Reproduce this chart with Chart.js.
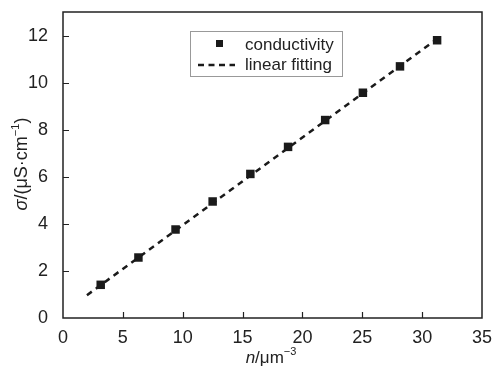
<!DOCTYPE html>
<html>
<head>
<meta charset="utf-8">
<script src="https://cdn.jsdelivr.net/npm/chart.js@4/dist/chart.umd.min.js"></script>
<style>
    body { margin: 0; background: #fff; }
    canvas { display: block; }
</style>
</head>
<body>
<canvas id="chart" width="492" height="369"></canvas>
<script>
// measured points (n in um^-3, sigma in uS/cm)
const nValues = [3.15, 6.3, 9.4, 12.5, 15.65, 18.8, 21.9, 25.05, 28.15, 31.25];
const sigmaValues = [1.41, 2.57, 3.76, 4.95, 6.12, 7.27, 8.41, 9.57, 10.69, 11.8];

// ends of the fitted line
const fitX = [2.0, 31.55];
const fitY = [0.97, 11.97];

const xTicks = [0, 5, 10, 15, 20, 25, 30, 35];
const yTicks = [0, 2, 4, 6, 8, 10, 12];

const FONT = '"Liberation Sans", Arial, sans-serif';
const INK = '#222';

// keep the plot box where the reference has it
function noScalePadding(scale) {
    scale.paddingLeft = 0;
    scale.paddingRight = 0;
    scale.paddingTop = 0;
    scale.paddingBottom = 0;
}

// Draw the frame, inward ticks, axis titles and the legend box
const decorPlugin = {
    id: 'decor',
    afterDraw(chart) {
        const ctx = chart.ctx;
        const area = chart.chartArea;
        const xs = chart.scales.x;
        const ys = chart.scales.y;

        ctx.save();
        ctx.strokeStyle = INK;
        ctx.lineWidth = 1.5;
        ctx.strokeRect(area.left, area.top, area.right - area.left, area.bottom - area.top);

        ctx.lineWidth = 1.2;
        ctx.beginPath();
        xTicks.slice(1, -1).forEach(v => {
            const px = Math.round(xs.getPixelForValue(v)) + 0.5;
            ctx.moveTo(px, area.bottom);
            ctx.lineTo(px, area.bottom - 6);
        });
        yTicks.slice(1).forEach(v => {
            const py = Math.round(ys.getPixelForValue(v)) + 0.5;
            ctx.moveTo(area.left, py);
            ctx.lineTo(area.left + 6, py);
        });
        ctx.stroke();

        // axis titles with italic symbol and superscript
        function drawPieces(pieces, cx, baseline) {
            let total = 0;
            pieces.forEach(p => { ctx.font = p.font; total += ctx.measureText(p.text).width; });
            let x = cx - total / 2;
            ctx.textAlign = 'left';
            ctx.textBaseline = 'alphabetic';
            pieces.forEach(p => {
                ctx.font = p.font;
                ctx.fillText(p.text, x, baseline - (p.rise || 0));
                x += ctx.measureText(p.text).width;
            });
        }

        ctx.fillStyle = INK;
        drawPieces([
            { text: 'n', font: 'italic 17px ' + FONT },
            { text: '/μm', font: '17px ' + FONT },
            { text: '−3', font: '11px ' + FONT, rise: 8 }
        ], 271, 363);

        ctx.save();
        ctx.translate(27, 164);
        ctx.rotate(-Math.PI / 2);
        drawPieces([
            { text: 'σ', font: 'italic 18px ' + FONT },
            { text: '/(μS·cm', font: '18px ' + FONT },
            { text: '−1', font: '11px ' + FONT, rise: 8 },
            { text: ')', font: '18px ' + FONT }
        ], 0, 0);
        ctx.restore();

        // legend
        ctx.strokeStyle = '#999';
        ctx.lineWidth = 1;
        ctx.strokeRect(190.5, 31.5, 152, 45);

        ctx.fillStyle = '#1a1a1a';
        ctx.fillRect(216, 40, 7, 7);

        ctx.strokeStyle = '#1a1a1a';
        ctx.lineWidth = 2.5;
        ctx.setLineDash([6, 4.5]);
        ctx.beginPath();
        ctx.moveTo(198, 65);
        ctx.lineTo(235, 65);
        ctx.stroke();
        ctx.setLineDash([]);

        ctx.fillStyle = INK;
        ctx.font = '17px ' + FONT;
        ctx.textAlign = 'left';
        ctx.textBaseline = 'alphabetic';
        ctx.fillText('conductivity', 245, 50);
        ctx.fillText('linear fitting', 245, 70);
        ctx.restore();
    }
};

const ctx = document.getElementById('chart').getContext('2d');
new Chart(ctx, {
    type: 'scatter',
    data: {
        datasets: [
            {
                label: 'conductivity',
                data: nValues.map((n, i) => ({ x: n, y: sigmaValues[i] })),
                pointStyle: 'rect',
                pointRadius: 6,
                backgroundColor: '#1a1a1a',
                borderColor: '#1a1a1a',
                borderWidth: 0
            },
            {
                label: 'linear fitting',
                data: fitX.map((x, i) => ({ x: x, y: fitY[i] })),
                showLine: true,
                borderColor: '#1a1a1a',
                borderWidth: 2.5,
                borderDash: [6, 5],
                pointRadius: 0
            }
        ]
    },
    options: {
        responsive: false,
        animation: false,
        layout: { padding: { left: 0, top: 12, right: 10, bottom: 0 } },
        plugins: {
            legend: { display: false },
            tooltip: { enabled: false }
        },
        scales: {
            x: {
                type: 'linear',
                min: 0,
                max: 35,
                afterFit: scale => { scale.height = 51; noScalePadding(scale); },
                afterBuildTicks: scale => { scale.ticks = xTicks.map(v => ({ value: v })); },
                grid: { display: false },
                border: { display: false },
                ticks: {
                    padding: 1,
                    color: INK,
                    font: { family: FONT, size: 18 }
                }
            },
            y: {
                type: 'linear',
                min: 0,
                max: 13,
                afterFit: scale => { scale.width = 63; noScalePadding(scale); },
                afterBuildTicks: scale => { scale.ticks = yTicks.map(v => ({ value: v })); },
                grid: { display: false },
                border: { display: false },
                ticks: {
                    padding: 7,
                    color: INK,
                    font: { family: FONT, size: 18 }
                }
            }
        }
    },
    plugins: [decorPlugin]
});
</script>
</body>
</html>
